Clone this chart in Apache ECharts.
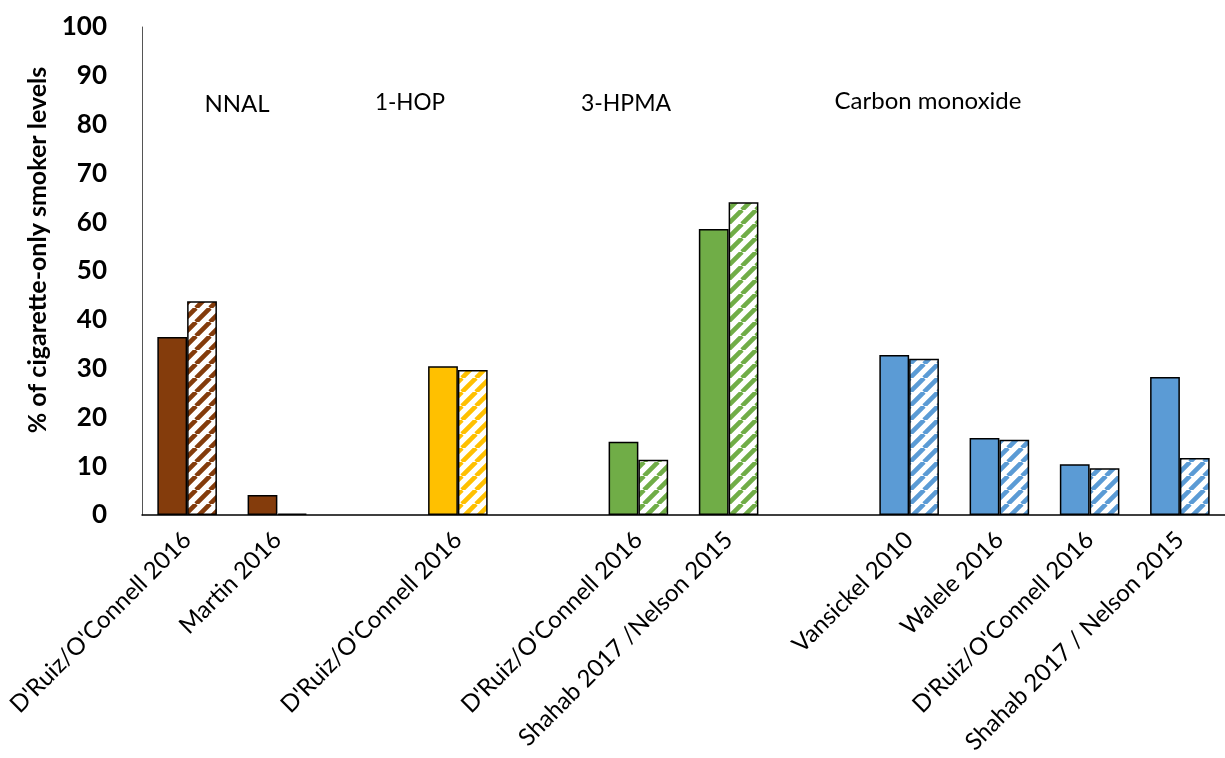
<!DOCTYPE html>
<html><head><meta charset="utf-8">
<script src="https://cdn.jsdelivr.net/npm/echarts@6/dist/echarts.min.js"></script>
<style>html,body{margin:0;padding:0;background:#fff}#c{width:1225px;height:758px}</style>
</head><body><div id="c"></div>
<script>
const categories = ["D'Ruiz/O'Connell 2016","Martin 2016","","D'Ruiz/O'Connell 2016","","D'Ruiz/O'Connell 2016","Shahab 2017 /Nelson 2015","","Vansickel 2010","Walele 2016","D'Ruiz/O'Connell 2016","Shahab 2017 / Nelson 2015"];
const groupOf = ["NNAL","NNAL",null,"1-HOP",null,"3-HPMA","3-HPMA",null,"CO","CO","CO","CO"];
const solidValues = [36.5, 4.1, null, 30.5, null, 15.0, 58.6, null, 32.8, 15.8, 10.4, 28.3];
const hatchedValues = [43.8, 0.3, null, 29.7, null, 11.3, 64.1, null, 32.0, 15.4, 9.6, 11.7];
const groupColors = {"NNAL":"#843C0C","1-HOP":"#FFC000","3-HPMA":"#70AD47","CO":"#5B9BD5"};
const groupLabels = ["NNAL","1-HOP","3-HPMA","Carbon monoxide"];
const yTicks = [0,10,20,30,40,50,60,70,80,90,100];

function hatch(color){
  const s = 14, c = document.createElement('canvas');
  c.width = s; c.height = s;
  const g = c.getContext('2d');
  g.fillStyle = '#fff'; g.fillRect(0,0,s,s);
  g.strokeStyle = color; g.lineWidth = 4.6;
  g.beginPath();
  for (const o of [-s, 0, s]) { g.moveTo(o, s); g.lineTo(o + s, 0); }
  g.stroke();
  return c;
}
const chart = echarts.init(document.getElementById('c'), null, {renderer:'canvas'});
const font = 'Lato';
const solidData = solidValues.map((v,i)=> v==null? null : {value:v, itemStyle:{color:groupColors[groupOf[i]]}});
const hatchData = hatchedValues.map((v,i)=> v==null? null : {value:v, itemStyle:{color:{image:hatch(groupColors[groupOf[i]]), repeat:'repeat'}}});

chart.setOption({
  animation:false,
  textStyle:{fontFamily:font},
  grid:{left:142, top:27, bottom:243, width:1092, containLabel:false},
  xAxis:{type:'category', data:categories,
    axisLine:{lineStyle:{color:'#000', width:1.5}},
    axisTick:{alignWithLabel:true, length:5, lineStyle:{color:'#000', width:1.5}},
    axisLabel:{interval:0, rotate:45, fontSize:24, color:'#000', fontFamily:font, margin:21}},
  yAxis:{type:'value', min:0, max:100, interval:10,
    name:'% of cigarette-only smoker levels', nameLocation:'middle', nameGap:84, nameRotate:90,
    nameTextStyle:{fontSize:25, fontWeight:'bold', color:'#000', fontFamily:font, padding:[0,0,0,42]},
    axisLine:{show:true, lineStyle:{color:'#555', width:1}},
    axisTick:{show:false}, splitLine:{show:false},
    axisLabel:{fontSize:26, fontWeight:'bold', color:'#000', fontFamily:font, margin:35,
      formatter:v=> yTicks.includes(v)? String(v):''}},
  series:[
    {type:'bar', data:solidData, barGap:'0%', barCategoryGap:'34%',
      itemStyle:{borderColor:'#000', borderWidth:1.5}},
    {type:'bar', data:hatchData, barGap:'0%', barCategoryGap:'34%',
      itemStyle:{borderColor:'#000', borderWidth:1.5}}
  ]
});
const labelPos = {"NNAL":[237,104,24],"1-HOP":[410,103,22.5],"3-HPMA":[626,104,23],"Carbon monoxide":[928,101,24]};
chart.setOption({graphic: groupLabels.map(t=>{
  const o = labelPos[t];
  return {type:'text', x:o[0], y:o[1], style:{text:t, fill:'#000', font:`${o[2]}px ${font}`, align:'center', verticalAlign:'middle'}};
})});
</script></body></html>
